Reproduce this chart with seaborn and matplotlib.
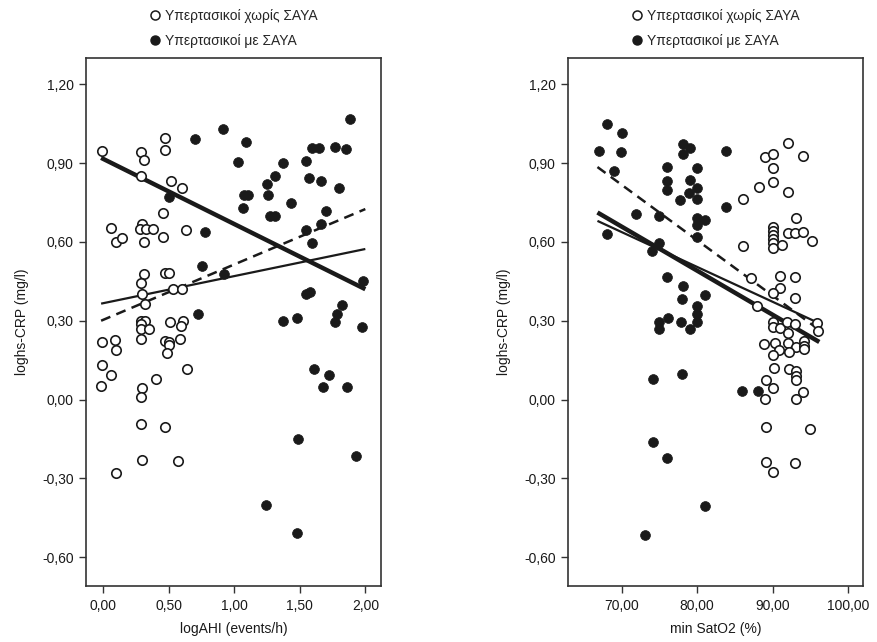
import numpy as np
import pandas as pd
import matplotlib
matplotlib.use("Agg")
import matplotlib.pyplot as plt
from matplotlib.ticker import FuncFormatter
from matplotlib.lines import Line2D
import seaborn as sns

sns.set_theme(style="white")
plt.rcParams['font.family'] = ['Liberation Sans', 'DejaVu Sans']
plt.rcParams['font.size'] = 10

# ---- data ----
lbl_no = "Υπερτασικοί χωρίς ΣΑΥΑ"
lbl_yes = "Υπερτασικοί με ΣΑΥΑ"

# left panel: logAHI vs loghs-CRP
ahi_no_x = [-0.01, 0.29, 0.47, 0.47, 0.31, 0.29, 0.52, 0.60, 0.46, 0.06, 0.10, 0.145, 0.30, 0.28,
            0.33, 0.38, 0.31, 0.46, 0.63, 0.31, 0.47, 0.50, 0.29, 0.30, 0.535, 0.60, 0.32, 0.29,
            0.32, 0.29, 0.29, 0.35, 0.51, 0.61, 0.595, -0.01, 0.094, 0.10, 0.29, 0.47, 0.505, 0.50,
            0.49, 0.59, -0.01, 0.06, -0.015, 0.64, 0.405, 0.30, 0.29, 0.29, 0.47, 0.30, 0.57, 0.10]
ahi_no_y = [0.945, 0.944, 0.995, 0.948, 0.91, 0.852, 0.83, 0.805, 0.71, 0.654, 0.60, 0.615, 0.67, 0.65,
            0.65, 0.65, 0.60, 0.62, 0.645, 0.477, 0.48, 0.48, 0.444, 0.40, 0.42, 0.42, 0.364, 0.30,
            0.30, 0.287, 0.27, 0.267, 0.297, 0.30, 0.28, 0.22, 0.225, 0.19, 0.23, 0.224, 0.22, 0.206,
            0.176, 0.23, 0.13, 0.095, 0.05, 0.117, 0.078, 0.042, 0.009, -0.094, -0.103, -0.232, -0.235, -0.28]
ahi_yes_x = [0.70, 0.915, 1.09, 1.03, 1.37, 1.31, 1.25, 1.075, 1.105, 1.255, 1.43, 1.07, 1.27, 1.31,
             0.50, 0.775, 0.755, 0.92, 1.886, 1.59, 1.65, 1.765, 1.85, 1.545, 1.57, 1.66, 1.80, 1.70,
             1.66, 1.55, 1.59, 1.98, 1.58, 1.545, 1.37, 1.48, 1.825, 1.785, 1.77, 1.975, 1.61, 1.72,
             1.68, 1.86, 1.485, 1.93, 1.48, 1.24, 0.725]
ahi_yes_y = [0.99, 1.03, 0.98, 0.906, 0.90, 0.85, 0.82, 0.78, 0.78, 0.78, 0.75, 0.728, 0.70, 0.70,
             0.77, 0.636, 0.51, 0.477, 1.067, 0.957, 0.957, 0.96, 0.955, 0.907, 0.845, 0.83, 0.807, 0.718,
             0.668, 0.645, 0.594, 0.453, 0.41, 0.40, 0.30, 0.31, 0.36, 0.327, 0.295, 0.277, 0.115, 0.094,
             0.047, 0.046, -0.15, -0.215, -0.51, -0.40, 0.324]

# right panel: min SatO2 vs loghs-CRP
sat_no_x = [92.0, 89.0, 90.0, 94.1, 90.0, 90.0, 88.2, 92.1, 86.1, 93.1, 90.0, 90.0, 90.0, 90.0, 90.0,
            90.0, 91.2, 92.0, 93.0, 94.1, 95.2, 86.1, 87.1, 91.0, 93.0, 91.0, 90.0, 93.0, 87.9, 90.0,
            90.0, 91.0, 91.9, 93.0, 92.1, 95.9, 96.0, 88.9, 90.3, 92.1, 93.1, 94.2, 94.2, 94.2, 90.9,
            90.0, 92.2, 90.2, 92.2, 93.1, 93.1, 93.1, 89.2, 90.0, 89.0, 93.1, 94.1, 89.2, 95.0, 89.1,
            93.0, 90.1]
sat_no_y = [0.978, 0.923, 0.933, 0.927, 0.883, 0.828, 0.81, 0.79, 0.763, 0.69, 0.658, 0.641, 0.625, 0.61, 0.594,
            0.578, 0.588, 0.634, 0.634, 0.637, 0.605, 0.585, 0.464, 0.469, 0.466, 0.425, 0.406, 0.386, 0.355, 0.295,
            0.277, 0.273, 0.295, 0.288, 0.254, 0.292, 0.26, 0.212, 0.214, 0.216, 0.20, 0.221, 0.203, 0.194, 0.187,
            0.171, 0.182, 0.121, 0.118, 0.108, 0.091, 0.076, 0.076, 0.043, 0.003, 0.003, 0.028, -0.103, -0.114, -0.236,
            -0.24, -0.277]
sat_yes_x = [68.1, 70.1, 67.0, 69.9, 69.0, 78.1, 79.1, 78.2, 83.9, 76.0, 80.0, 76.0, 76.0, 79.1, 80.0,
             78.9, 80.0, 77.8, 83.9, 71.9, 74.9, 80.0, 81.1, 80.0, 68.1, 80.0, 75.0, 74.0, 76.0, 78.1,
             78.0, 81.0, 80.0, 80.0, 80.0, 76.1, 75.0, 75.0, 77.9, 79.0, 74.1, 78.0, 74.1, 76.0, 81.0,
             73.1, 86.0, 88.1]
sat_yes_y = [1.05, 1.016, 0.947, 0.941, 0.87, 0.971, 0.959, 0.936, 0.945, 0.886, 0.883, 0.832, 0.796, 0.835, 0.806,
             0.786, 0.762, 0.759, 0.734, 0.706, 0.698, 0.69, 0.683, 0.663, 0.63, 0.618, 0.594, 0.564, 0.467, 0.434,
             0.384, 0.396, 0.355, 0.324, 0.295, 0.309, 0.295, 0.267, 0.297, 0.27, 0.079, 0.098, -0.163, -0.224, -0.406,
             -0.517, 0.033, 0.033]

# fit lines (start and end values over the data range)
ahi_fit_x = [-0.015, 2.0]
ahi_fit_total = [0.92, 0.42]
ahi_fit_thin = [0.365, 0.573]
ahi_fit_dash = [0.30, 0.725]
sat_fit_x = [66.8, 96.2]
sat_fit_total = [0.712, 0.219]
sat_fit_thin = [0.68, 0.29]
sat_fit_dash = [0.885, 0.265]

y_ticks = [-0.6, -0.3, 0.0, 0.3, 0.6, 0.9, 1.2]
ahi_ticks = [0.0, 0.5, 1.0, 1.5, 2.0]
sat_ticks = [70, 80, 90, 100]

comma = FuncFormatter(lambda v, p: f"{v:.2f}".replace('.', ','))
ink = '#1a1a1a'


def draw_panel(ax, x_no, y_no, x_yes, y_yes, fit_x, fit_total, fit_thin, fit_dash,
               xticks, xlim, xlabel):
    ax.plot(fit_x, fit_total, color=ink, lw=3.2, solid_capstyle='butt', zorder=2)
    ax.plot(fit_x, fit_thin, color=ink, lw=1.6, solid_capstyle='butt', zorder=2)
    ax.plot(fit_x, fit_dash, color=ink, lw=1.8, dashes=(4, 2.6), zorder=2)

    sns.scatterplot(x=x_no, y=y_no, ax=ax, s=46, facecolor='white', edgecolor=ink,
                    linewidth=1.2, zorder=3)
    sns.scatterplot(x=x_yes, y=y_yes, ax=ax, s=50, color=ink, edgecolor=ink,
                    linewidth=0.5, zorder=3)

    ax.set_xlim(*xlim)
    ax.set_ylim(-0.71, 1.30)
    ax.set_xticks(xticks)
    ax.set_yticks(y_ticks)
    ax.xaxis.set_major_formatter(comma)
    ax.yaxis.set_major_formatter(comma)
    ax.tick_params(axis='both', direction='out', length=5, width=1, color='#333333',
                   labelsize=10, labelcolor=ink, bottom=True, left=True, pad=4)
    for sp in ax.spines.values():
        sp.set_visible(True)
        sp.set_color('#333333')
        sp.set_linewidth(1.2)
    ax.set_xlabel(xlabel, fontsize=10, color=ink, labelpad=7)
    ax.set_ylabel('loghs-CRP (mg/l)', fontsize=10, color=ink, labelpad=9)

    handles = [
        Line2D([0], [0], marker='o', ls='', markersize=6.5, markerfacecolor='white',
               markeredgecolor=ink, markeredgewidth=1.1, label=lbl_no),
        Line2D([0], [0], marker='o', ls='', markersize=6.5, markerfacecolor=ink,
               markeredgecolor=ink, label=lbl_yes),
    ]
    ax.legend(handles=handles, loc='lower center', bbox_to_anchor=(0.5, 1.0),
              frameon=False, fontsize=10, handletextpad=0.35, handlelength=0.8,
              labelspacing=0.8, borderaxespad=0.5, borderpad=0.2)


fig = plt.figure(figsize=(8.77, 6.42), dpi=100)
ax1 = fig.add_axes([0.0981, 0.0872, 0.3364, 0.8224])
ax2 = fig.add_axes([0.6477, 0.0872, 0.3364, 0.8224])

draw_panel(ax1, ahi_no_x, ahi_no_y, ahi_yes_x, ahi_yes_y, ahi_fit_x, ahi_fit_total,
           ahi_fit_thin, ahi_fit_dash, ahi_ticks, (-0.13, 2.12), 'logAHI (events/h)')
draw_panel(ax2, sat_no_x, sat_no_y, sat_yes_x, sat_yes_y, sat_fit_x, sat_fit_total,
           sat_fit_thin, sat_fit_dash, sat_ticks, (62.9, 102.0), 'min SatO2 (%)')

fig.savefig('out.png', dpi=100, facecolor='white')
